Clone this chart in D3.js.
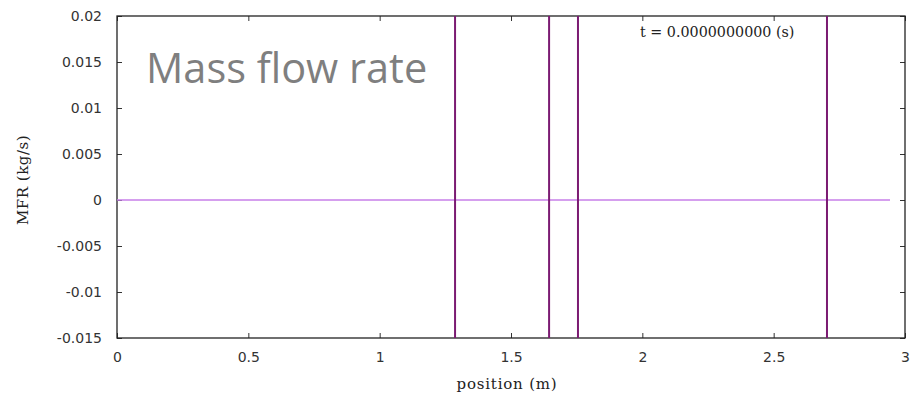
<!DOCTYPE html>
<html>
<head>
<meta charset="utf-8">
<script src="https://cdn.jsdelivr.net/npm/d3@7"></script>
<style>
  body { margin: 0; background: #fff; }
  .tick text { font-family: "DejaVu Sans", sans-serif; }
</style>
</head>
<body>
<div id="chart"></div>
<script>
// data
var xTicks = [0, 0.5, 1, 1.5, 2, 2.5, 3];
var yTicks = [-0.015, -0.01, -0.005, 0, 0.005, 0.01, 0.015, 0.02];
var flowX = [0, 2.943];      // mass flow rate series (flat at zero)
var flowY = [0, 0];
var markers = [1.287, 1.645, 1.755, 2.703];  // vertical position markers
var timeLabel = "t = 0.0000000000 (s)";

var margin = {top: 16, right: 13, bottom: 59, left: 117},
    width = 918 - margin.left - margin.right,
    height = 397 - margin.top - margin.bottom;

var svg = d3.select("#chart")
  .append("svg")
    .attr("width", 918)
    .attr("height", 397)
  .append("g")
    .attr("transform", "translate(" + margin.left + "," + margin.top + ")");

var x = d3.scaleLinear().domain([0, 3]).range([0, width]);
var y = d3.scaleLinear().domain([-0.015, 0.02]).range([height, 0]);

function fmt(d) { return d === 0 ? "0" : String(d); }

// bottom axis, ticks pointing inward
svg.append("g")
  .attr("transform", "translate(0," + height + ")")
  .call(d3.axisBottom(x).tickValues(xTicks).tickFormat(fmt).tickSizeInner(-5).tickSizeOuter(0).tickPadding(14));
// left axis
svg.append("g")
  .call(d3.axisLeft(y).tickValues(yTicks).tickFormat(fmt).tickSizeInner(-5).tickSizeOuter(0).tickPadding(15));
// mirrored top / right ticks
svg.append("g")
  .call(d3.axisTop(x).tickValues(xTicks).tickFormat("").tickSizeInner(-5).tickSizeOuter(0));
svg.append("g")
  .attr("transform", "translate(" + width + ",0)")
  .call(d3.axisRight(y).tickValues(yTicks).tickFormat("").tickSizeInner(-5).tickSizeOuter(0));

svg.selectAll(".domain").remove();
svg.selectAll(".tick line").attr("stroke", "#333");
svg.selectAll(".tick text").attr("font-size", 14).attr("fill", "#333");

// frame
svg.append("rect")
  .attr("width", width).attr("height", height)
  .attr("fill", "none").attr("stroke", "#222").attr("stroke-width", 1.3);

// flow line
svg.append("path")
  .datum(d3.range(flowX.length))
  .attr("fill", "none")
  .attr("stroke", "#c77fe8")
  .attr("stroke-width", 1.6)
  .attr("d", d3.line().x(function (i) { return x(flowX[i]); }).y(function (i) { return y(flowY[i]); }));

// vertical markers
svg.append("g").selectAll("line")
  .data(markers)
  .enter()
  .append("line")
    .attr("x1", function (d) { return x(d); })
    .attr("x2", function (d) { return x(d); })
    .attr("y1", 0).attr("y2", height)
    .attr("stroke", "#7b1b72")
    .attr("stroke-width", 2);

// big title
svg.append("text")
  .attr("x", 29).attr("y", 67)
  .attr("font-family", "'Open Sans', sans-serif")
  .attr("font-size", 41.5)
  .attr("fill", "#7f7f7f")
  .text("Mass flow rate");

svg.append("text")
  .attr("x", 523).attr("y", 21)
  .attr("font-family", "'DejaVu Serif', serif")
  .attr("font-size", 14.3)
  .attr("fill", "#222")
  .text(timeLabel);

// axis labels
svg.append("text")
  .attr("x", 390).attr("y", height + 51)
  .attr("text-anchor", "middle")
  .attr("font-family", "'DejaVu Serif', serif")
  .attr("font-size", 15)
  .attr("letter-spacing", 0.8)
  .attr("fill", "#222")
  .text("position (m)");

svg.append("text")
  .attr("transform", "translate(" + (-89) + "," + (y(0) - 20) + ") rotate(-90)")
  .attr("text-anchor", "middle")
  .attr("font-family", "'DejaVu Serif', serif")
  .attr("font-size", 15)
  .attr("letter-spacing", 0.5)
  .attr("fill", "#222")
  .text("MFR (kg/s)");
</script>
</body>
</html>
